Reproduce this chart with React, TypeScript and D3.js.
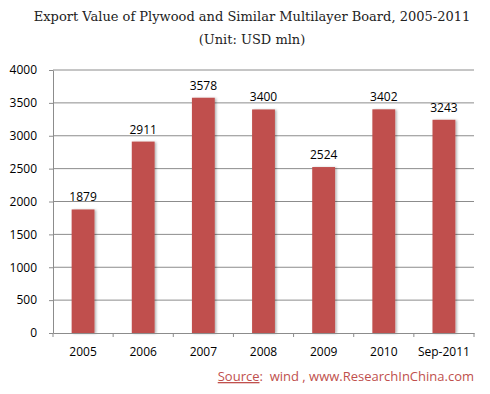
import React, { useEffect, useRef } from 'react';
import * as d3 from 'd3';

const years = ['2005', '2006', '2007', '2008', '2009', '2010', 'Sep-2011'];
const exportValues = [1879, 2911, 3578, 3400, 2524, 3402, 3243];
const yTicks = [0, 500, 1000, 1500, 2000, 2500, 3000, 3500, 4000];

const App: React.FC = () => {
  const svgRef = useRef<SVGSVGElement>(null);

  useEffect(() => {
    document.body.style.margin = '0';
    if (!svgRef.current) return;
    const svg = d3.select(svgRef.current);
    svg.selectAll('*').remove();

    const left = 53;
    const right = 474;
    const top = 70;
    const bottom = 333;

    const x = d3.scaleBand().domain(years).range([left, right]).paddingInner(0.62).paddingOuter(0.31);
    const y = d3.scaleLinear().domain([0, 4000]).range([bottom, top]);

    // 目盛線
    svg
      .append('g')
      .selectAll('line')
      .data(yTicks.slice(1))
      .enter()
      .append('line')
      .attr('x1', left)
      .attr('x2', right)
      .attr('y1', (d) => y(d))
      .attr('y2', (d) => y(d))
      .attr('stroke', '#8c8c8c')
      .attr('stroke-width', 1);

    // 影
    const defs = svg.append('defs');
    const filter = defs.append('filter').attr('id', 'shadow').attr('x', '-20%').attr('y', '-5%').attr('width', '150%').attr('height', '120%');
    filter.append('feDropShadow').attr('dx', 1.5).attr('dy', 0.5).attr('stdDeviation', 1).attr('flood-color', '#000').attr('flood-opacity', 0.3);

    // 棒
    svg
      .selectAll('.bar')
      .data(exportValues)
      .enter()
      .append('rect')
      .attr('class', 'bar')
      .attr('x', (_, i) => x(years[i]) || 0)
      .attr('y', (d) => y(d))
      .attr('width', x.bandwidth())
      .attr('height', (d) => bottom - y(d))
      .attr('fill', '#C0504D')
      .attr('filter', 'url(#shadow)');

    // 数値ラベル
    svg
      .selectAll('.val')
      .data(exportValues)
      .enter()
      .append('text')
      .attr('x', (_, i) => (x(years[i]) || 0) + x.bandwidth() / 2)
      .attr('y', (d) => y(d) - 8)
      .attr('text-anchor', 'middle')
      .style('font-family', '"Open Sans", Lato, sans-serif')
      .style('font-size', '12px')
      .attr('fill', '#000')
      .text((d) => d);

    // Y軸
    const yAxis = svg
      .append('g')
      .attr('transform', `translate(${left},0)`)
      .call(d3.axisLeft(y).tickValues(yTicks).tickFormat(d3.format('d')).tickSize(4).tickPadding(12).tickSizeOuter(0));
    yAxis.select('.domain').attr('stroke', '#8c8c8c');
    yAxis.selectAll('line').attr('stroke', '#8c8c8c');
    yAxis.selectAll('text').style('font-family', '"Open Sans", Lato, sans-serif').style('font-size', '12px').attr('fill', '#000');

    // X軸
    const xAxis = svg
      .append('g')
      .attr('transform', `translate(0,${bottom})`)
      .call(d3.axisBottom(x).tickSize(0).tickPadding(14));
    xAxis.select('.domain').attr('stroke', '#8c8c8c');
    xAxis.selectAll('text').style('font-family', '"Open Sans", Lato, sans-serif').style('font-size', '12px').attr('fill', '#000');
    const step = x.step();
    const bounds = d3.range(years.length + 1).map((i) => left + i * step);
    xAxis
      .selectAll('.sep')
      .data(bounds)
      .enter()
      .append('line')
      .attr('x1', (d) => d)
      .attr('x2', (d) => d)
      .attr('y1', 0)
      .attr('y2', 4)
      .attr('stroke', '#8c8c8c');

    // タイトル
    const title = svg
      .append('text')
      .attr('text-anchor', 'middle')
      .style('font-family', '"DejaVu Serif", "Liberation Serif", serif')
      .style('font-size', '13px')
      .attr('fill', '#222');
    title.append('tspan').attr('x', 252).attr('y', 21).text('Export Value of Plywood and Similar Multilayer Board, 2005-2011');
    title.append('tspan').attr('x', 252).attr('y', 44).text('(Unit: USD mln)');

    // 出典
    const src = svg
      .append('text')
      .attr('x', 474)
      .attr('y', 381)
      .attr('text-anchor', 'end')
      .style('font-family', '"Open Sans", Lato, sans-serif')
      .style('font-size', '13px')
      .style('white-space', 'pre')
      .attr('fill', '#C0504D');
    src.append('tspan').style('text-decoration', 'underline').text('Source');
    src.append('tspan').text(':  wind , www.ResearchInChina.com');
  }, []);

  return <svg ref={svgRef} width={490} height={394} style={{ display: 'block' }}></svg>;
};

export default App;
